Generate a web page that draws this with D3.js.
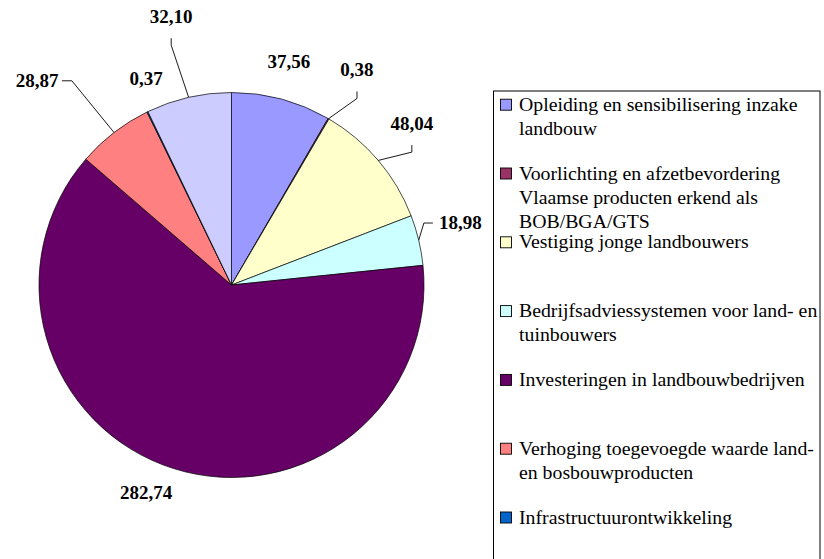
<!DOCTYPE html>
<html>
<head>
<meta charset="utf-8">
<script src="https://cdn.jsdelivr.net/npm/d3@7"></script>
<style>
    body { margin: 0; background: #fff; }
    svg { display: block; }
    text { font-family: "Liberation Serif", "Times New Roman", Times, "DejaVu Serif", serif; }
</style>
</head>
<body>
<svg id="chart"></svg>
<script>
// categories in pie order (clockwise from 12 o'clock); the last one is not visible in the legend
const categories = [
    "Opleiding en sensibilisering inzake\nlandbouw",
    "Voorlichting en afzetbevordering\nVlaamse producten erkend als\nBOB/BGA/GTS",
    "Vestiging jonge landbouwers",
    "Bedrijfsadviessystemen voor land- en\ntuinbouwers",
    "Investeringen in landbouwbedrijven",
    "Verhoging toegevoegde waarde land-\nen bosbouwproducten",
    "Infrastructuurontwikkeling",
    ""
];
const values = [37.56, 0.38, 48.04, 18.98, 282.74, 28.87, 0.37, 32.10];
const valueLabels = ["37,56", "0,38", "48,04", "18,98", "282,74", "28,87", "0,37", "32,10"];
const colors = ["#9999FF", "#993366", "#FFFFCC", "#CCFFFF", "#660066", "#FF8080", "#0066CC", "#CCCCFF"];

// label placement: angle nudge (deg) from slice middle, distance from centre, leader type
const labelLayout = [
    { nudge: -0.7, dist: 231, leader: null },
    { nudge: 0, dist: 249, leader: "v" },
    { nudge: -1.5, dist: 242, leader: "v" },
    { nudge: -1.7, dist: 237, leader: "h" },
    { nudge: 4.9, dist: 224, leader: null },
    { nudge: -6, dist: 282, leader: "h" },
    { nudge: 3.4, dist: 223, leader: null },
    { nudge: 0.2, dist: 275, leader: "v" }
];

const width = 824;
const height = 559;
const cx = 231.5;
const cy = 285;
const radius = 192.5;

const svg = d3.select("#chart")
    .attr("width", width)
    .attr("height", height);

const pie = d3.pie().sort(null).value(d => d);
const arcs = pie(values);
const arc = d3.arc().innerRadius(0).outerRadius(radius);

const g = svg.append("g").attr("transform", `translate(${cx},${cy})`);

g.selectAll("path.slice")
    .data(arcs)
    .enter()
    .append("path")
    .attr("class", "slice")
    .attr("d", arc)
    .attr("fill", (d, i) => colors[i])
    .attr("stroke", "#000")
    .attr("stroke-width", 0.7)
    .attr("stroke-linejoin", "miter");

const polar = (ang, r) => [Math.sin(ang) * r, -Math.cos(ang) * r];
const toRad = deg => deg * Math.PI / 180;

arcs.forEach((d, i) => {
    const mid = (d.startAngle + d.endAngle) / 2;
    const lay = labelLayout[i];
    const [lx, ly] = polar(mid + toRad(lay.nudge), lay.dist);
    const text = g.append("text")
        .attr("x", lx)
        .attr("y", ly)
        .attr("dy", "0.34em")
        .attr("text-anchor", "middle")
        .style("font-weight", "bold")
        .style("font-size", "19px")
        .attr("fill", "#000")
        .text(valueLabels[i]);

    if (!lay.leader) return;
    const edge = polar(mid, radius);
    const bb = text.node().getBBox();
    let pts;
    if (lay.leader === "v") {
        const y0 = ly + 6.5 + 15;
        pts = [[lx, y0], [lx, y0 + 7], edge];
    } else if (lx < 0) {
        const x0 = bb.x + bb.width + 3;
        pts = [[x0, ly], [x0 + 10, ly], edge];
    } else {
        const x0 = bb.x - 6;
        pts = [[x0, ly], [x0 - 9, ly], edge];
    }
    g.append("path")
        .attr("d", d3.line()(pts))
        .attr("fill", "none")
        .attr("stroke", "#000")
        .attr("stroke-width", 0.9);
});

// legend
const legendX = 493.5;
const legendY = 91;
svg.append("rect")
    .attr("x", legendX)
    .attr("y", legendY)
    .attr("width", 326.5)
    .attr("height", 500)
    .attr("fill", "#fff")
    .attr("stroke", "#000")
    .attr("stroke-width", 1);

const legendScale = d3.scaleLinear()
    .domain([0, 1])
    .range([110.7, 179.5]);

const legendItems = categories.map((name, i) => ({ name, i })).filter(d => d.name);

const item = svg.selectAll("g.legend-item")
    .data(legendItems)
    .enter()
    .append("g")
    .attr("class", "legend-item")
    .attr("transform", d => `translate(0,${legendScale(d.i)})`);

item.append("rect")
    .attr("x", 500.5)
    .attr("y", -11.5)
    .attr("width", 11)
    .attr("height", 11)
    .attr("fill", d => colors[d.i])
    .attr("stroke", "#000")
    .attr("stroke-width", 0.9);

item.append("text")
    .style("font-size", "19.8px")
    .attr("fill", "#000")
    .selectAll("tspan")
    .data(d => d.name.split("\n"))
    .enter()
    .append("tspan")
    .attr("x", 519)
    .attr("y", (d, k) => k * 24.4)
    .text(d => d);
</script>
</body>
</html>
